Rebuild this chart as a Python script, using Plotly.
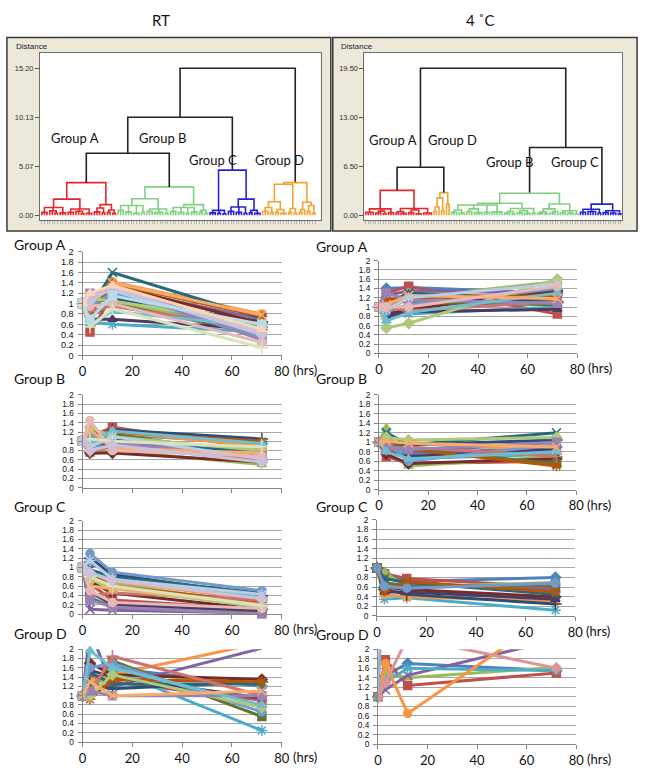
import plotly.graph_objects as go

# ======================= DATA =======================
TIMES = [0, 3, 12, 72]
X_TICKS = [0, 20, 40, 60, 80]
Y_TICKS = [0, 0.2, 0.4, 0.6, 0.8, 1.0, 1.2, 1.4, 1.6, 1.8, 2.0]
Y_TICKTEXT = ["0", "0.2", "0.4", "0.6", "0.8", "1", "1.2", "1.4", "1.6", "1.8", "2"]

RT_A = [
    [1, 0.95, 1.25, 0.55], [1, 0.45, 1.15, 0.60], [1, 0.80, 1.05, 0.45], [1, 0.90, 1.30, 0.70],
    [1, 0.65, 0.60, 0.45], [1, 0.85, 1.42, 0.80], [1, 1.00, 1.10, 0.65], [1, 1.05, 1.35, 0.62],
    [1, 0.75, 1.00, 0.40], [1, 0.70, 0.70, 0.50], [1, 0.90, 1.60, 0.72], [1, 0.80, 1.38, 0.75],
    [1, 0.95, 1.20, 0.35], [1, 0.85, 0.95, 0.50], [1, 1.10, 1.05, 0.60], [1, 1.20, 1.30, 0.30],
    [1, 0.60, 0.85, 0.55], [1, 1.00, 1.40, 0.78], [1, 1.15, 1.25, 0.45], [1, 0.95, 1.00, 0.25],
    [1, 0.55, 0.90, 0.15], [1, 1.05, 1.30, 0.40], [1, 0.70, 1.15, 0.60], [1, 1.20, 1.35, 0.50],
]
RT_B = [
    [1, 0.90, 1.15, 0.95], [1, 1.10, 1.30, 0.85], [1, 0.72, 0.80, 0.50], [1, 0.85, 0.95, 0.80],
    [1, 0.80, 1.10, 0.65], [1, 1.00, 1.20, 0.90], [1, 0.95, 1.25, 1.05], [1, 0.75, 0.75, 0.55],
    [1, 1.20, 1.15, 0.70], [1, 1.05, 0.90, 0.60], [1, 0.90, 1.05, 0.75], [1, 0.85, 1.20, 1.00],
    [1, 1.15, 1.00, 0.85], [1, 0.78, 0.88, 0.60], [1, 1.30, 1.10, 0.80], [1, 1.00, 0.95, 0.70],
    [1, 0.95, 1.22, 0.95], [1, 1.25, 0.85, 0.75], [1, 0.88, 1.10, 0.62], [1, 1.45, 0.80, 0.68],
    [1, 1.05, 1.00, 0.88], [1, 0.80, 0.92, 0.55],
]
RT_C = [
    [1, 1.10, 0.85, 0.35], [1, 0.65, 0.30, 0.10], [1, 0.75, 0.65, 0.20], [1, 0.10, 0.08, 0.02],
    [1, 0.45, 0.20, 0.10], [1, 0.80, 0.70, 0.30], [1, 1.20, 0.85, 0.40], [1, 0.70, 0.45, 0.10],
    [1, 0.35, 0.15, 0.05], [1, 0.50, 0.20, 0.08], [1, 0.95, 0.80, 0.45], [1, 0.85, 0.60, 0.25],
    [1, 1.30, 0.90, 0.50], [1, 0.40, 0.45, 0.30], [1, 0.75, 0.55, 0.15], [1, 0.30, 0.15, 0.00],
    [1, 0.90, 0.72, 0.35], [1, 0.60, 0.55, 0.20], [1, 1.15, 0.75, 0.42], [1, 0.50, 0.25, 0.12],
    [1, 0.80, 0.60, 0.18], [1, 0.88, 0.72, 0.33],
]
RT_D = [
    [1, 1.30, 1.60, 1.20], [1, 1.35, 1.30, 0.90], [1, 1.15, 1.50, 1.25], [1, 2.40, 1.20, 2.02],
    [1, 1.20, 1.55, 0.25], [1, 1.30, 1.45, 2.14], [1, 1.25, 1.15, 1.30], [1, 1.70, 1.45, 1.35],
    [1, 1.10, 1.75, 0.55], [1, 1.55, 1.40, 0.95], [1, 1.50, 1.25, 1.25], [1, 0.92, 1.35, 1.30],
    [1, 1.60, 1.70, 0.65], [1, 1.05, 1.85, 1.00], [1, 1.00, 1.45, 0.75], [1, 1.10, 1.00, 1.00],
    [1, 1.97, 1.60, 0.80], [1, 1.30, 1.00, 1.10],
]
C4_A = [
    [1, 1.40, 1.42, 1.30], [1, 1.30, 1.45, 0.85], [1, 0.90, 1.20, 1.55], [1, 1.25, 1.35, 1.30],
    [1, 0.75, 0.85, 1.00], [1, 1.10, 1.30, 1.20], [1, 0.95, 1.25, 1.10], [1, 0.85, 0.95, 1.35],
    [1, 1.20, 1.10, 1.05], [1, 0.80, 0.90, 0.95], [1, 1.05, 1.30, 1.15], [1, 1.15, 1.20, 1.25],
    [1, 0.90, 1.05, 1.40], [1, 1.00, 0.92, 1.12], [1, 0.55, 0.65, 1.60], [1, 1.30, 1.15, 1.08],
    [1, 0.70, 0.88, 1.30], [1, 1.05, 1.25, 1.18], [1, 0.95, 1.20, 1.50], [1, 1.00, 1.00, 1.45],
]
C4_B = [
    [1, 0.95, 0.75, 0.90], [1, 0.70, 0.55, 0.60], [1, 1.30, 0.50, 0.70], [1, 0.85, 0.80, 1.00],
    [1, 1.15, 0.65, 0.75], [1, 1.00, 1.00, 0.80], [1, 0.90, 0.95, 1.05], [1, 0.75, 0.55, 0.65],
    [1, 1.05, 0.85, 0.55], [1, 0.80, 0.70, 0.85], [1, 1.20, 0.95, 1.20], [1, 0.95, 0.85, 0.50],
    [1, 1.00, 0.60, 0.95], [1, 0.85, 0.90, 0.70], [1, 1.10, 1.05, 1.10], [1, 0.92, 0.85, 1.00],
    [1, 0.80, 0.65, 0.80], [1, 1.02, 0.98, 0.90],
]
C4_C = [
    [1, 0.90, 0.72, 0.80], [1, 0.88, 0.78, 0.60], [1, 0.92, 0.60, 0.70], [1, 0.68, 0.65, 0.55],
    [1, 0.35, 0.38, 0.12], [1, 0.45, 0.40, 0.30], [1, 0.55, 0.45, 0.25], [1, 0.60, 0.55, 0.40],
    [1, 0.70, 0.60, 0.65], [1, 0.50, 0.50, 0.35], [1, 0.78, 0.70, 0.45], [1, 0.52, 0.72, 0.50],
    [1, 0.62, 0.58, 0.68],
]
C4_D = [
    [1, 1.45, 1.70, 1.55], [1, 1.78, 1.24, 1.50], [1, 1.50, 1.40, 1.62], [1, 1.15, 1.45, 2.20],
    [1, 1.30, 1.60, 1.55], [1, 1.70, 0.65, 2.80], [1, 4.50, 3.50, 3.00], [1, 1.30, 2.25, 1.60],
]

# dendrogram distance axes
RT_DIST_TICKS = [0, 5.07, 10.13, 15.20]
RT_DIST_LABELS = ["0.00", "5.07", "10.13", "15.20"]
C4_DIST_TICKS = [0, 6.5, 13.0, 19.5]
C4_DIST_LABELS = ["0.00", "6.50", "13.00", "19.50"]

# dendrogram trees: [height, child, child, ...]; 0 = leaf
RT_TREE_A = [3.37,
             [1.67,
              [0.8, [0.3, 0, 0, 0], [0.45, 0, 0, [0.2, 0, 0]], [0.25, 0, 0, 0]],
              [0.65, [0.3, 0, 0, 0], [0.4, 0, 0, [0.15, 0, 0]], [0.2, 0, 0, 0]]],
             [1.1,
              [0.75, [0.35, 0, 0, 0], [0.25, 0, 0]],
              [0.55, [0.3, 0, 0], [0.2, 0, 0]]]]
RT_TREE_B = [2.93,
             [1.7,
              [1.0, [0.5, 0, 0, 0], [0.35, 0, 0, 0], [0.2, 0, 0, 0], [0.3, 0, 0]],
              [0.65, [0.4, 0, 0, 0], [0.3, 0, 0, 0, 0], [0.2, 0, 0]]],
             [1.1,
              [0.8, [0.4, 0, 0, 0], [0.3, 0, 0, 0], [0.2, 0, 0], [0.35, 0, 0, 0]],
              [0.5, [0.3, 0, 0], [0.2, 0, 0]]]]
RT_TREE_C = [4.66,
             [0.5, [0.25, 0, 0, 0], [0.2, 0, 0], [0.15, 0, 0]],
             [1.67,
              [0.85, [0.4, 0, 0, 0], [0.3, 0, 0, 0], [0.2, 0, 0]],
              [0.5, [0.25, 0, 0], [0.2, 0, 0, 0]]]]
RT_TREE_D = [3.37,
             [3.2,
              [1.4, [0.8, [0.4, 0, 0, 0], [0.3, 0, 0]], [0.6, [0.3, 0, 0], [0.2, 0, 0, 0]]],
              [0.7, [0.3, 0, 0], [0.2, 0, 0]]],
             [1.35, [0.6, [0.3, 0, 0], 0], [1.0, [0.4, 0, 0], [0.2, 0, 0]]]]
RT_TOP = [15.2, [10.13, [6.4, "A", "B"], "C"], "D"]

C4_TREE_A = [3.3,
             [0.85, [0.4, 0, 0, 0, 0], [0.55, [0.3, 0, 0, 0], [0.2, 0, 0]], [0.35, 0, 0, 0]],
             [0.9, [0.5, [0.3, 0, 0], [0.25, 0, 0, 0]], [0.7, [0.35, 0, 0, 0], [0.2, 0, 0, 0]],
              [0.3, 0, 0, 0, 0]]]
C4_TREE_D = [3.0, [2.3, [1.1, [0.5, 0, 0], 0], [0.6, 0, 0]], [1.5, 0, 0]]
C4_TREE_B = [2.92,
             [1.6,
              [1.35, [0.7, [0.4, 0, 0, 0], [0.3, 0, 0, 0]], [0.85, [0.5, 0, 0, 0], [0.35, 0, 0, 0, 0]],
               [0.4, 0, 0, 0], [0.45, 0, 0, 0, 0, 0]],
              [0.9, [0.5, [0.3, 0, 0, 0], [0.2, 0, 0]], [0.6, [0.35, 0, 0, 0], [0.25, 0, 0, 0]],
               [0.3, 0, 0]]],
             [1.5,
              [0.85, [0.45, [0.25, 0, 0, 0], [0.2, 0, 0]], [0.5, [0.3, 0, 0, 0], 0]],
              [0.6, [0.35, 0, 0, 0], [0.3, 0, 0, 0], [0.2, 0, 0]]]]
C4_TREE_C = [1.48,
             [0.8, [0.4, 0, 0, 0], [0.5, 0, 0, 0, 0], [0.3, 0, 0]],
             [0.6, [0.35, 0, 0, 0], [0.3, 0, 0, 0], [0.2, 0, 0]]]
C4_TOP = [19.5, [6.37, "A", "D"], [8.99, "B", "C"]]

# ======================= STYLE =======================
W, H = 648, 773
FONT = "Lato"
TICK_FONT = "Liberation Sans"
PALETTE = ["#4F81BD", "#C0504D", "#9BBB59", "#8064A2", "#4BACC6", "#F79646",
           "#2C4D75", "#772C2A", "#5F7530", "#4D3B62", "#276A7C", "#B65708",
           "#729ACA", "#CD7371", "#AFC97A", "#9983B5", "#6FBDD1", "#F9AB6B",
           "#B9CDE5", "#E6B9B8", "#D7E4BD", "#CCC1DA", "#B7DEE8", "#FCD5B5",
           "#95B3D7", "#D99694", "#C3D69B", "#B3A2C7", "#93CDDD", "#FAC090"]
MARKERS = ["diamond", "square", "triangle-up", "x-thin-open", "asterisk-open", "circle", "cross-thin-open"]
GROUP_COLORS = {"A": "#E5262B", "B": "#80D080", "C": "#2424D2", "D": "#F4A332", "top": "#222222"}
C4_D_COLOR_IDX = [0, 1, 2, 3, 4, 5, 24, 25]


def px2x(p):
    return p / W


def px2y(p):
    return 1 - p / H


fig = go.Figure()
layout = {}
annotations = []
shapes = []


def axkey(kind, n):
    return kind + ("axis" if n == 1 else "axis%d" % n)


def axref(kind, n):
    return kind + ("" if n == 1 else str(n))


# ---------------- dendrograms ----------------
def build_dendro(top, groups, n, leaf_px, dom_x, dom_y, ticks, labels, yr_px):
    counter = [0]
    segs = {}

    def add(color, xs, ys):
        sx, sy = segs.setdefault(color, ([], []))
        sx.extend(xs + [None])
        sy.extend(ys + [None])

    def walk(node, color):
        if isinstance(node, str):
            return walk(groups[node], GROUP_COLORS[node])
        if not isinstance(node, list):
            x = counter[0]
            counter[0] += 1
            return x, 0.0
        h = node[0]
        kids = [walk(k, color) for k in node[1:]]
        add(color, [kids[0][0], kids[0][0], kids[-1][0], kids[-1][0]],
            [kids[0][1], h, h, kids[-1][1]])
        for kx, kh in kids[1:-1]:
            add(color, [kx, kx], [kh, h])
        return (kids[0][0] + kids[-1][0]) / 2.0, h

    walk(top, GROUP_COLORS["top"])
    nleaf = counter[0]
    for color, (sx, sy) in segs.items():
        fig.add_trace(go.Scatter(x=sx, y=sy, mode="lines", line=dict(color=color, width=1.6),
                                 xaxis=axref("x", n), yaxis=axref("y", n), hoverinfo="skip",
                                 showlegend=False, cliponaxis=False))
    s = (leaf_px[1] - leaf_px[0]) / (nleaf - 1)
    xr = [-(leaf_px[0] - dom_x[0]) / s, (nleaf - 1) + (dom_x[1] - leaf_px[1]) / s]
    ppu = (yr_px[0] - yr_px[1]) / ticks[-1]
    yr = [-(dom_y[1] - yr_px[0]) / ppu, ticks[-1] + (yr_px[1] - dom_y[0]) / ppu]
    layout[axkey("x", n)] = dict(domain=[px2x(dom_x[0]), px2x(dom_x[1])], range=xr, anchor=axref("y", n),
                                 showgrid=False, zeroline=False, showline=True, mirror=True,
                                 linecolor="#6E6E6E", linewidth=1, ticks="outside", ticklen=3,
                                 tickcolor="#B4B4B4", tickwidth=1, tickvals=list(range(nleaf)),
                                 showticklabels=False, fixedrange=True)
    layout[axkey("y", n)] = dict(domain=[px2y(dom_y[1]), px2y(dom_y[0])], range=yr, anchor=axref("x", n),
                                 showgrid=False, zeroline=False, showline=True, mirror=True,
                                 linecolor="#6E6E6E", linewidth=1, ticks="outside", ticklen=4,
                                 tickcolor="#555555", tickvals=ticks, ticktext=labels,
                                 tickfont=dict(family="Liberation Sans", size=7.5, color="#333333"),
                                 fixedrange=True)


build_dendro(RT_TOP, {"A": RT_TREE_A, "B": RT_TREE_B, "C": RT_TREE_C, "D": RT_TREE_D}, 1,
             (38.5, 317), (36.7, 322.7), (48.3, 218), RT_DIST_TICKS, RT_DIST_LABELS, (213, 64))
build_dendro(C4_TOP, {"A": C4_TREE_A, "B": C4_TREE_B, "C": C4_TREE_C, "D": C4_TREE_D}, 2,
             (368.5, 628.5), (367.3, 630), (48.3, 218), C4_DIST_TICKS, C4_DIST_LABELS, (213, 64))

# panel backgrounds
for (x0, x1) in [(3, 333), (335, 645)]:
    shapes.append(dict(type="rect", xref="paper", yref="paper", x0=px2x(x0), x1=px2x(x1),
                       y0=px2y(229), y1=px2y(33), fillcolor="#ECE9D8",
                       line=dict(color="#3A3A3A", width=1.5), layer="below"))
for (x0, x1) in [(36.7, 322.7), (367.3, 630)]:
    shapes.append(dict(type="rect", xref="paper", yref="paper", x0=px2x(x0), x1=px2x(x1),
                       y0=px2y(218), y1=px2y(48.3), fillcolor="white",
                       line=dict(width=0), layer="below"))

for px_, py_ in [(10, 42), (341, 42)]:
    annotations.append(dict(text="Distance", x=px2x(px_), y=px2y(py_), xref="paper", yref="paper",
                            xanchor="left", yanchor="middle", showarrow=False,
                            font=dict(family="Liberation Sans", size=8, color="#222222")))

DENDRO_LABELS = [("Group A", 72, 135), ("Group B", 162, 135), ("Group C", 213, 157), ("Group D", 281, 157),
                 ("Group A", 396, 137), ("Group D", 457, 137), ("Group B", 516, 159), ("Group C", 582, 159)]
for t, px_, py_ in DENDRO_LABELS:
    annotations.append(dict(text=t, x=px2x(px_), y=px2y(py_), xref="paper", yref="paper",
                            xanchor="center", yanchor="middle", showarrow=False,
                            font=dict(family=FONT, size=13, color="#111111")))

annotations.append(dict(text="RT", x=px2x(160), y=px2y(15), xref="paper", yref="paper", showarrow=False,
                        font=dict(family=FONT, size=15, color="#111111"), xanchor="center", yanchor="middle"))
annotations.append(dict(text="4 ˚C", x=px2x(485), y=px2y(15), xref="paper", yref="paper", showarrow=False,
                        font=dict(family=FONT, size=15, color="#111111"), xanchor="center", yanchor="middle"))

# ---------------- line charts ----------------
PANELS = [
    ("Group A", RT_A, None, (80, 283), (250, 355), (8, 243), True, 9.2),
    ("Group B", RT_B, None, (80, 283), (395, 489), (8, 378), False, 8.3),
    ("Group C", RT_C, None, (80, 283), (522.7, 617), (8, 508), True, 8.3),
    ("Group D", RT_D, None, (80, 283), (652.7, 746.7), (8, 637), True, 8.3),
    ("Group A", C4_A, None, (382, 584), (259, 353), (316, 245), True, 8.3),
    ("Group B", C4_B, None, (382, 583), (395, 491), (316, 378), True, 8.3),
    ("Group C", C4_C, None, (380, 582), (521.7, 619), (316, 508), True, 8.3),
    ("Group D", C4_D, C4_D_COLOR_IDX, (381, 583), (652.7, 749), (316, 638), True, 8.3),
]

for i, (title, series, cidx, dx, dy, hpos, showx, yfs) in enumerate(PANELS):
    n = i + 3
    for j, vals in enumerate(series):
        color = PALETTE[(cidx[j] if cidx else j) % len(PALETTE)]
        sym = MARKERS[j % len(MARKERS)]
        inside = all(0 <= v <= 2 for v in vals)
        fig.add_trace(go.Scatter(
            x=TIMES, y=vals, mode="lines+markers",
            line=dict(color=color, width=3),
            marker=dict(symbol=sym, size=9 if sym.endswith("open") else 8, color=color,
                        line=dict(color=color, width=1.5)),
            xaxis=axref("x", n), yaxis=axref("y", n), showlegend=False, hoverinfo="skip",
            cliponaxis=not inside))
    layout[axkey("x", n)] = dict(domain=[px2x(dx[0]), px2x(dx[1])], range=[0, 80], anchor=axref("y", n),
                                 tickvals=X_TICKS, showgrid=False, zeroline=False, showline=True,
                                 linecolor="#868686", linewidth=1, ticks="outside", ticklen=4,
                                 tickcolor="#868686", showticklabels=showx,
                                 tickfont=dict(family=FONT, size=13, color="#111111"), fixedrange=True)
    layout[axkey("y", n)] = dict(domain=[px2y(dy[1]), px2y(dy[0])], range=[0, 2], anchor=axref("x", n),
                                 tickvals=Y_TICKS, ticktext=Y_TICKTEXT, showgrid=True, gridcolor="#A6A6A6",
                                 gridwidth=1, zeroline=False, showline=True, linecolor="#868686",
                                 linewidth=1, ticks="outside", ticklen=4, tickcolor="#868686",
                                 ticklabelstandoff=2,
                                 tickfont=dict(family=TICK_FONT, size=yfs, color="#111111"), fixedrange=True)
    annotations.append(dict(text=title, x=px2x(hpos[0]), y=px2y(hpos[1]), xref="paper", yref="paper",
                            xanchor="left", yanchor="middle", showarrow=False,
                            font=dict(family=FONT, size=14, color="#111111")))
    if showx:
        annotations.append(dict(text="(hrs)", x=80, y=0, xref=axref("x", n), yref=axref("y", n),
                                xanchor="left", yanchor="middle", xshift=9, yshift=-15, showarrow=False,
                                font=dict(family=FONT, size=13, color="#111111")))

fig.update_layout(width=W, height=H, margin=dict(l=0, r=0, t=0, b=0), autosize=False,
                  paper_bgcolor="white", plot_bgcolor="rgba(0,0,0,0)",
                  annotations=annotations, shapes=shapes, showlegend=False, **layout)
fig.write_html("out.html", config={"displayModeBar": False},
               post_script="document.body.style.margin='0';document.body.style.padding='0';")
